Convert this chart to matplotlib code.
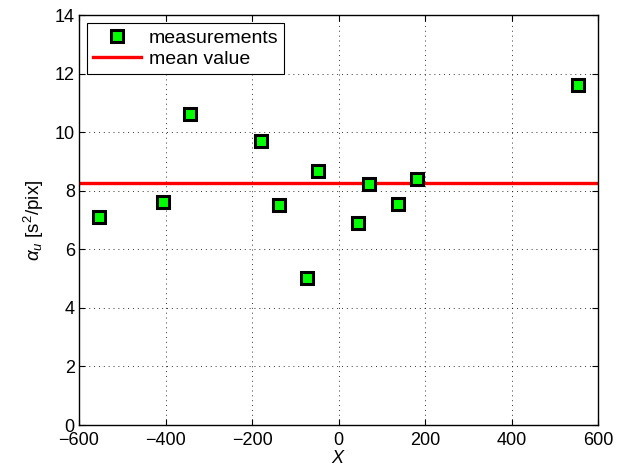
import numpy as np
import matplotlib
matplotlib.use("Agg")
import matplotlib.pyplot as plt

x_pos = [-553, -406, -343, -180, -138, -72, -47, 45, 70, 138, 180, 554]
alpha_u = [7.12, 7.61, 10.64, 9.72, 7.52, 5.03, 8.67, 6.91, 8.23, 7.54, 8.42, 11.63]
mean_value = float(np.mean(alpha_u))

x_ticks = [-600, -400, -200, 0, 200, 400, 600]
y_ticks = [0, 2, 4, 6, 8, 10, 12, 14]

plt.rcParams["font.family"] = ["Liberation Sans", "DejaVu Sans"]
plt.rcParams["mathtext.fontset"] = "custom"
plt.rcParams["mathtext.rm"] = "Liberation Sans"
plt.rcParams["mathtext.it"] = "Liberation Sans:italic"

fig = plt.figure(figsize=(6.29, 4.70), dpi=100)
ax = fig.add_axes([0.1256, 0.0957, 0.8256, 0.8717])

ax.plot(x_pos, alpha_u, "s", ms=8.5, mfc="#00ff00", mec="black", mew=2.2,
        label="measurements", zorder=3)
ax.axhline(mean_value, color="red", lw=2.4, label="mean value", zorder=2)

ax.set_xlim(-600, 600)
ax.set_ylim(0, 14)
ax.set_xticks(x_ticks)
ax.set_yticks(y_ticks)
ax.tick_params(direction="in", top=True, right=True, labelsize=13, length=4,
               width=0.8)
ax.tick_params(axis="y", pad=3)
ax.tick_params(axis="x", pad=5)
ax.grid(True, ls=(0, (1, 4)), color="black", lw=0.7, alpha=0.8)
for s in ax.spines.values():
    s.set_linewidth(1.0)

ax.set_xlabel("$X$", fontsize=13, labelpad=1)
ax.set_ylabel(r"$\alpha_u$ [s$^2$/pix]", fontsize=13.5, labelpad=6)

leg = ax.legend(loc="upper left", fontsize=14, fancybox=False, framealpha=1,
                edgecolor="black", borderaxespad=0.4, handlelength=2.5,
                borderpad=0.3, labelspacing=0.2, handletextpad=0.4)
leg.get_frame().set_linewidth(0.8)

fig.savefig("out.png", dpi=100)
